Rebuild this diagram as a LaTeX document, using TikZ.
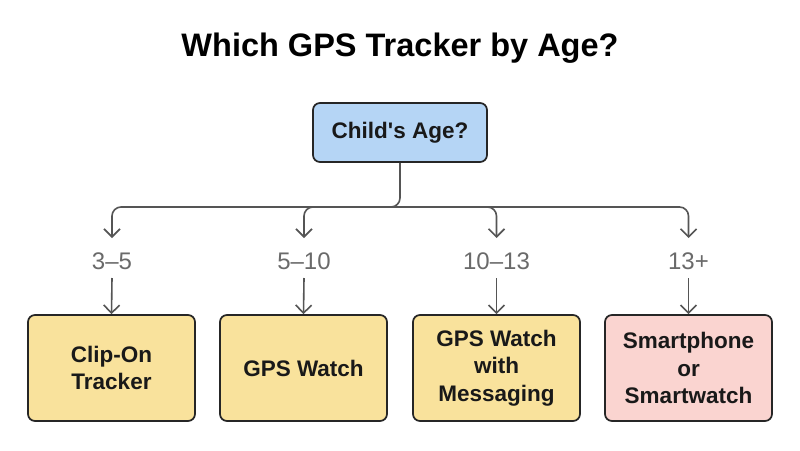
\documentclass[tikz,border=0pt]{standalone}
\usepackage{fontspec}
\setmainfont{Liberation Sans}[Ligatures=TeXOff]
\usetikzlibrary{arrows.meta}
\definecolor{bluefill}{HTML}{B5D5F5}
\definecolor{yellowfill}{HTML}{F9E29C}
\definecolor{pinkfill}{HTML}{FAD4D0}
\definecolor{linegray}{HTML}{555555}
\definecolor{labelgray}{HTML}{6A6A6A}
\tikzset{
  box/.style={draw=black!85, line width=1.7pt, rounded corners=7pt, align=center,
    font=\bfseries\fontsize{22.5}{27.5}\selectfont, text=black!90, inner sep=0pt},
  conn/.style={draw=linegray, line width=1.6pt, rounded corners=9pt},
  arr/.style={conn, -{Straight Barb[length=8pt,width=16pt,line width=1.6pt]}},
  agelabel/.style={font=\fontsize{24}{28}\selectfont, text=labelgray},
}
\begin{document}
\begin{tikzpicture}[x=1pt,y=-1pt]
\useasboundingbox[fill=white] (0,0) rectangle (800,450);
\node[font=\bfseries\fontsize{32.5}{38}\selectfont] (title) at (400,48) {Which GPS Tracker by Age?};
\node[box, fill=bluefill, minimum width=174pt, minimum height=59pt] (root) at (400,132.5) {Child's Age?};
\coordinate (j) at (400,207);
\foreach \n/\x/\t in {a/112/3–5, b/304/5–10, c/496.5/10–13, d/688.5/13+}{
  \coordinate (t\n) at (\x,207);
  \coordinate (h\n) at (\x,238);
  \node[agelabel] (l\n) at (\x,261) {\t};
  \coordinate (u\n) at (\x,278);
}
\node[box, fill=yellowfill, minimum width=167pt, minimum height=106pt] (ba) at (111.5,368) {Clip-On\\Tracker};
\node[box, fill=yellowfill, minimum width=167pt, minimum height=106pt] (bb) at (303.5,368) {GPS Watch};
\node[box, fill=yellowfill, minimum width=167pt, minimum height=106pt] (bc) at (496.5,368) {GPS Watch\\with\\Messaging};
\node[box, fill=pinkfill, minimum width=167pt, minimum height=106pt] (bd) at (688.5,368) {Smartphone\\or\\Smartwatch};
\draw[arr] (root.south) -- (j) -- (ta) -- (ha);
\draw[arr] (j) -- (tb) -- (hb);
\draw[arr] (j) -- (tc) -- (hc);
\draw[arr] (j) -- (td) -- (hd);
\foreach \n in {a,b,c,d}{
  \draw[arr] (u\n) -- (b\n.north);
}
\end{tikzpicture}
\end{document}
